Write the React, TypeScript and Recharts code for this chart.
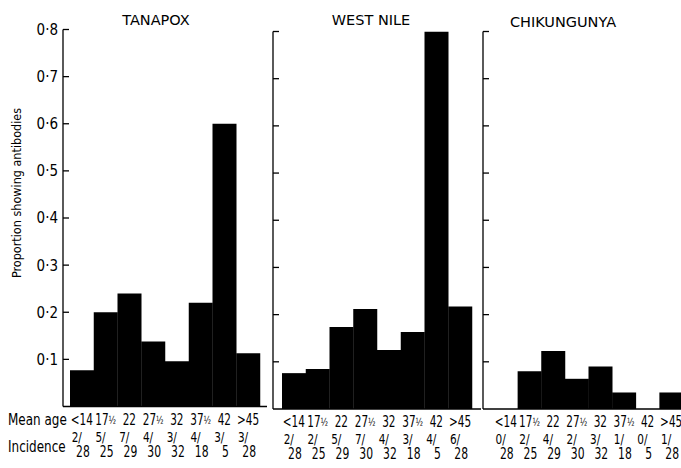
import React from 'react'
import { BarChart, Bar, XAxis, YAxis } from 'recharts'

const ageGroups = ['<14', '17½', '22', '27½', '32', '37½', '42', '>45']
const yTicks = [0.1, 0.2, 0.3, 0.4, 0.5, 0.6, 0.7, 0.8]
const yTickLabels = ['0·1', '0·2', '0·3', '0·4', '0·5', '0·6', '0·7', '0·8']

const tanapox = [0.077, 0.2, 0.24, 0.138, 0.096, 0.22, 0.6, 0.113]
const westNile = [0.076, 0.085, 0.174, 0.212, 0.125, 0.163, 0.8, 0.217]
const chikungunya = [0, 0.08, 0.123, 0.064, 0.09, 0.035, 0, 0.035]

const tanapoxInc = ['2/28', '5/25', '7/29', '4/30', '3/32', '4/18', '3/5', '3/28']
const westNileInc = ['2/28', '2/25', '5/29', '7/30', '4/32', '3/18', '4/5', '6/28']
const chikInc = ['0/28', '2/25', '4/29', '2/30', '3/32', '1/18', '0/5', '1/28']

const FONT = "'DejaVu Sans', sans-serif"
const COND = "'DejaVu Sans Condensed', 'DejaVu Sans', sans-serif"

const toRows = (vals: number[]) => ageGroups.map((age, i) => ({ age, value: vals[i] }))

// narrow text: the print uses a tall condensed face, so squeeze horizontally
function NText({ x, y, sx = 0.72, size = 15, anchor = 'middle', children }: any) {
  return (
    <text
      transform={`translate(${x},${y}) scale(${sx},1)`}
      textAnchor={anchor}
      fontSize={size}
      fontFamily={FONT}
      fill="#000"
    >
      {children}
    </text>
  )
}

function makeXTick(inc: string[]) {
  return (props: any) => {
    const { x, y, payload, index } = props
    const [num, den] = inc[index ?? payload.index].split('/')
    const v: string = payload.value
    const half = v.endsWith('½')
    return (
      <g>
        <NText x={x} y={y + 18} sx={0.7}>
          {half ? v.slice(0, -1) : v}
          {half && <tspan fontSize={11} dy={-1}>½</tspan>}
        </NText>
        <NText x={x} y={y + 35} anchor="end" size={14} sx={0.75}>{num}/</NText>
        <NText x={x + 1} y={y + 50} size={15} sx={0.72}>{den}</NText>
      </g>
    )
  }
}

function makeYTick(showLabel: boolean) {
  return (props: any) => {
    const { x, y, payload } = props
    const idx = yTicks.indexOf(payload.value)
    return (
      <g>
        <line x1={x} x2={x + 6} y1={y} y2={y} stroke="#000" strokeWidth={1.3} />
        {showLabel && (
          <text x={x - 5} y={y} dy="0.36em" textAnchor="end" fontSize={15} fontFamily={COND} fill="#000">
            {yTickLabels[idx]}
          </text>
        )}
      </g>
    )
  }
}

interface PanelProps {
  vals: number[]
  inc: string[]
  left: number
  width: number
  yWidth: number
  top: number
  base: number
  padL: number
  padR: number
  labels: boolean
}

function Panel({ vals, inc, left, width, yWidth, top, base, padL, padR, labels }: PanelProps) {
  return (
    <div style={{ position: 'absolute', left, top: 0 }}>
      <BarChart
        width={width}
        height={468}
        data={toRows(vals)}
        margin={{ top, right: 0, bottom: 0, left: 0 }}
        barCategoryGap={0}
      >
        <XAxis
          dataKey="age"
          height={468 - base}
          padding={{ left: padL, right: padR }}
          axisLine={{ stroke: '#000', strokeWidth: 1.3 }}
          tickLine={false}
          tickSize={0}
          tickMargin={0}
          interval={0}
          tick={makeXTick(inc)}
        />
        <YAxis
          width={yWidth}
          domain={[0, 0.8]}
          ticks={yTicks}
          allowDataOverflow
          axisLine={{ stroke: '#000', strokeWidth: 1.3 }}
          tickLine={false}
          tickSize={0}
          tickMargin={0}
          tick={makeYTick(labels)}
        />
        <Bar dataKey="value" fill="#000" isAnimationActive={false} />
      </BarChart>
    </div>
  )
}

export default function App() {
  return (
    <div style={{ position: 'absolute', left: 0, top: 0, width: 681, height: 468, overflow: 'hidden', background: '#fff' }}>
      <Panel vals={tanapox} inc={tanapoxInc} left={0} width={267} yWidth={63} top={29.5} base={406.5} padL={7} padR={7} labels />
      <Panel vals={westNile} inc={westNileInc} left={263} width={218} yWidth={10} top={31.5} base={409} padL={9} padR={9} labels={false} />
      <Panel vals={chikungunya} inc={chikInc} left={473} width={215} yWidth={10} top={31.5} base={409} padL={11} padR={5} labels={false} />
      <svg width={681} height={468} style={{ position: 'absolute', left: 0, top: 0, pointerEvents: 'none' }}>
        <g fontFamily={FONT} fill="#000">
          <text x={156} y={25} textAnchor="middle" fontSize={14.5}>TANAPOX</text>
          <text x={371} y={25} textAnchor="middle" fontSize={14.5}>WEST NILE</text>
          <text x={563} y={27} textAnchor="middle" fontSize={14.5}>CHIKUNGUNYA</text>
        </g>
        <g fontFamily={COND} fill="#000">
          <text x={16} y={193} textAnchor="middle" fontSize={12.5} dy="0.36em" transform="rotate(-90 16 193)">
            Proportion showing antibodies
          </text>
        </g>
        <NText x={8} y={425} anchor="start" sx={0.8}>Mean age</NText>
        <NText x={8} y={452} anchor="start" sx={0.8}>Incidence</NText>
      </svg>
    </div>
  )
}
